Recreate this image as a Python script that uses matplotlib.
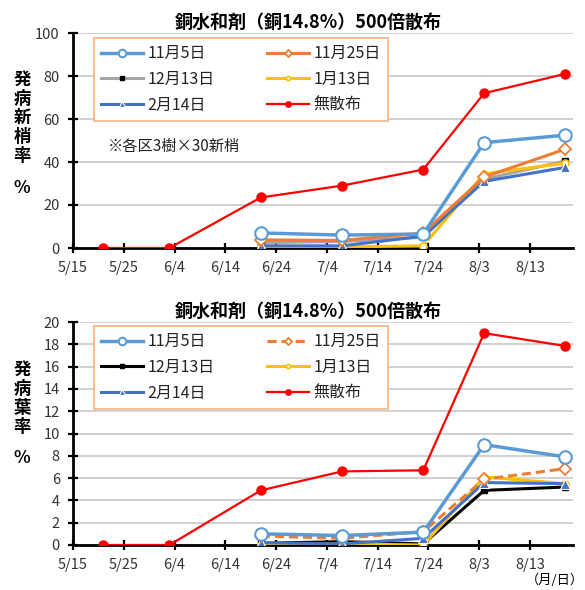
import matplotlib
matplotlib.use("Agg")
import matplotlib.pyplot as plt
from datetime import datetime, timedelta

plt.rcParams['font.family'] = ['Noto Sans CJK JP', 'DejaVu Sans']

# survey dates (month/day)
dates_all = ["5/21", "6/3", "6/21", "7/7", "7/23", "8/4", "8/20"]
dates_trt = ["6/21", "7/7", "7/23", "8/4", "8/20"]
tick_labels = ["5/15", "5/25", "6/4", "6/14", "6/24", "7/4", "7/14", "7/24", "8/3", "8/13"]

names = ["11月5日", "11月25日", "12月13日", "1月13日", "2月14日", "無散布"]

# 発病新梢率 (%)
shoot_1105 = [7.0, 6.0, 6.5, 49.0, 52.5]
shoot_1125 = [3.8, 3.5, 7.0, 33.0, 46.0]
shoot_1213 = [2.5, 3.0, 5.0, 32.0, 40.5]
shoot_0113 = [0.5, 0.5, 1.0, 34.5, 39.5]
shoot_0214 = [1.0, 1.0, 5.5, 31.0, 37.5]
shoot_none = [0, 0, 23.5, 29.0, 36.5, 72.0, 81.0]

# 発病葉率 (%)
leaf_1105 = [1.0, 0.85, 1.15, 9.0, 7.9]
leaf_1125 = [0.8, 0.6, 1.2, 5.9, 6.85]
leaf_1213 = [0.15, 0.3, 0.1, 4.9, 5.2]
leaf_0113 = [0.0, 0.1, 0.0, 6.1, 5.5]
leaf_0214 = [0.2, 0.1, 0.6, 5.6, 5.5]
leaf_none = [0, 0, 4.9, 6.6, 6.7, 19.0, 17.85]

title = "銅水和剤（銅14.8%）500倍散布"


def to_date(s):
    m, d = s.split("/")
    return datetime(2021, int(m), int(d))


x_all = [to_date(s) for s in dates_all]
x_trt = [to_date(s) for s in dates_trt]
xticks = [to_date(s) for s in tick_labels]

c_blue = "#5B9BD5"
c_orange = "#ED7D31"
c_gray = "#A5A5A5"
c_gold = "#FFC000"
c_dblue = "#4472C4"
c_red = "#FF0000"


def draw(ax, series, none, gray_line, dashed_orange, ymax, ystep, leg_top):
    s1105, s1125, s1213, s0113, s0214 = series
    h = {}
    h[names[5]], = ax.plot(x_all, none, color=c_red, lw=1.6, marker="o", ms=6.5, zorder=3)
    h[names[2]], = ax.plot(x_trt, s1213, color=gray_line, lw=2.2, marker="s", ms=4,
                           mfc="black", mec="black", zorder=4)
    h[names[3]], = ax.plot(x_trt, s0113, color=c_gold, lw=2.2, marker="o", ms=5,
                           mfc="white", mec=c_gold, mew=1.2, zorder=5)
    h[names[4]], = ax.plot(x_trt, s0214, color=c_dblue, lw=2.2, marker="^", ms=7,
                           mfc=c_dblue, mec="white", mew=0.8, zorder=6)
    h[names[1]], = ax.plot(x_trt, s1125, color=c_orange, lw=2.2, marker="D", ms=6,
                           mfc="white", mec=c_orange, mew=1.3,
                           ls=(0, (3, 1.6)) if dashed_orange else "-", zorder=6)
    h[names[0]], = ax.plot(x_trt, s1105, color=c_blue, lw=2.5, marker="o", ms=9,
                           mfc="white", mec=c_blue, mew=1.5, zorder=7)

    ax.set_xlim(to_date("5/15"), to_date("5/15") + timedelta(days=98.5))
    ax.set_xticks(xticks)
    ax.set_xticklabels(tick_labels)
    ax.set_ylim(0, ymax)
    ax.set_yticks(range(0, ymax + 1, ystep))
    ax.grid(axis="y", color="#C8C8C8", lw=1.2)
    ax.set_axisbelow(True)
    for sp in ["top", "right"]:
        ax.spines[sp].set_visible(False)
    for sp in ["left", "bottom"]:
        ax.spines[sp].set_linewidth(2)
    ax.tick_params(direction="inout", length=7, width=1.6, labelsize=10.5,
                   colors="black", pad=6)
    for lab in ax.get_xticklabels() + ax.get_yticklabels():
        lab.set_color("#333333")
    ax.set_title(title, fontsize=13, fontweight="bold", pad=4, x=0.47)

    order = [names[0], names[2], names[4], names[1], names[3], names[5]]
    leg = ax.legend([h[n] for n in order], order, ncol=2, loc="upper left",
                    bbox_to_anchor=(0.042, leg_top), fontsize=11.5, frameon=True,
                    fancybox=False, edgecolor="#F4B183", framealpha=1,
                    handlelength=2.6, columnspacing=3.3, labelspacing=0.55,
                    borderpad=0.45, borderaxespad=0, handletextpad=0.3,
                    markerscale=0.6)
    leg.get_frame().set_linewidth(1.2)
    for t in leg.get_texts():
        t.set_color("#222222")
    return ax


def ylabel(chars, ys):
    for ch, y in zip(chars, ys):
        fig.text(22 / 585, 1 - y / 590, ch, ha="center", va="center",
                 fontsize=12.5, fontweight="bold")


fig = plt.figure(figsize=(5.85, 5.9), dpi=100)
ax1 = fig.add_axes([73 / 585, 1 - 248 / 590, 500 / 585, 215 / 590])
ax2 = fig.add_axes([73 / 585, 1 - 545 / 590, 500 / 585, 223 / 590])

draw(ax1, [shoot_1105, shoot_1125, shoot_1213, shoot_0113, shoot_0214], shoot_none,
     c_gray, False, 100, 20, 0.977)
draw(ax2, [leaf_1105, leaf_1125, leaf_1213, leaf_0113, leaf_0214], leaf_none,
     "black", True, 20, 2, 0.982)

ylabel("発病新梢率%", [80, 99, 118, 137, 156, 188])
ylabel("発病葉率%", [370, 389, 408, 427, 458])
ax1.text(0.07, 0.45, "※各区3樹×30新梢", transform=ax1.transAxes, fontsize=11, color="#222222")
fig.text(555 / 585, 1 - 580 / 590, "（月/日）", ha="center", va="center", fontsize=9.5)

fig.savefig("out.png", dpi=100)
